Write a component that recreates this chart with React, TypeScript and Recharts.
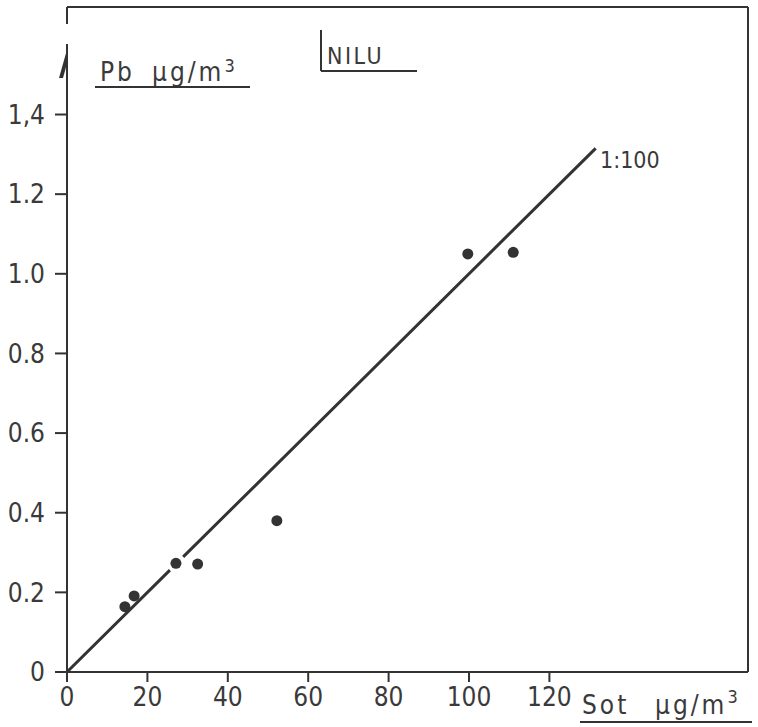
import { ComposedChart, Line, Scatter, XAxis, YAxis, ReferenceLine } from 'recharts'

// measured points, Sot (µg/m3) vs Pb (µg/m3)
const sotValues = [14.4, 16.7, 27.1, 32.5, 52.2, 99.7, 111.0]
const pbValues = [0.164, 0.191, 0.273, 0.271, 0.38, 1.05, 1.054]

// 1:100 reference line (drawn with a small break near 27)
const refX = [0, 25.6, 27.2, 28.9, 131.5]
const refY = [0, 0.256, null, 0.289, 1.315]

const xTicks = [0, 20, 40, 60, 80, 100, 120]
const yTicks = [0, 0.2, 0.4, 0.6, 0.8, 1.0, 1.2, 1.4]
const yTickLabels = ['0', '0.2', '0.4', '0.6', '0.8', '1.0', '1.2', '1,4']

const xMax = 169.4
const yMax = 1.67

const points = sotValues.map((x, i) => ({ x, y: pbValues[i] }))
const refLine = refX.map((x, i) => ({ x, y: refY[i] }))

const ink = '#333'
const font = "'DejaVu Sans Condensed', 'DejaVu Sans', sans-serif"
const tickStyle = { fontSize: 26, fill: '#3a3a3a', fontFamily: font }

export default function App() {
  return (
    <div style={{ position: 'absolute', left: 0, top: 0, width: 758, height: 727, background: '#fff' }}>
      <ComposedChart width={758} height={727} margin={{ top: 7, right: 10, left: 7, bottom: 15 }}>
        <XAxis
          type="number"
          dataKey="x"
          domain={[0, xMax]}
          ticks={xTicks}
          tick={tickStyle}
          tickSize={10}
          tickMargin={6}
          height={40}
          stroke={ink}
          strokeWidth={2}
        />
        <YAxis
          type="number"
          dataKey="y"
          domain={[0, yMax]}
          ticks={yTicks}
          tickFormatter={(v: number) => yTickLabels[yTicks.indexOf(v)] ?? ''}
          tick={tickStyle}
          tickSize={12}
          tickMargin={10}
          width={60}
          stroke={ink}
          strokeWidth={2}
        />
        <ReferenceLine x={xMax} stroke={ink} strokeWidth={2} />
        <ReferenceLine y={yMax} stroke={ink} strokeWidth={2} />
        <Line
          data={refLine}
          dataKey="y"
          stroke={ink}
          strokeWidth={3}
          dot={false}
          connectNulls={false}
          isAnimationActive={false}
        />
        <Scatter
          data={points}
          dataKey="y"
          fill={ink}
          isAnimationActive={false}
          shape={(p: any) => <circle cx={p.cx} cy={p.cy} r={5.5} fill={ink} />}
        />
      </ComposedChart>
      <svg width={758} height={727} style={{ position: 'absolute', left: 0, top: 0, pointerEvents: 'none' }}>
        <rect x={62} y={24} width={10} height={20} fill="#fff" />
        <g fill="#3a3a3a" fontFamily={font}>
          <text y={81} fontSize={26} letterSpacing={3}>
            <tspan x={100}>Pb</tspan>
            <tspan x={152}>µg/m</tspan>
            <tspan dy={-9} fontSize={18}>3</tspan>
          </text>
          <text x={327} y={64} fontSize={23} letterSpacing={2.5}>NILU</text>
          <text x={600} y={168} fontSize={23}>1:100</text>
          <text y={714} fontSize={26} letterSpacing={3}>
            <tspan x={582}>Sot</tspan>
            <tspan x={655}>µg/m</tspan>
            <tspan dy={-11} fontSize={18}>3</tspan>
          </text>
        </g>
        <g stroke={ink} strokeWidth={2}>
          <line x1={95} y1={87} x2={250} y2={87} />
          <line x1={321} y1={30} x2={321} y2={71} />
          <line x1={321} y1={71} x2={417} y2={71} />
          <line x1={580} y1={722} x2={752} y2={722} />
        </g>
        <path d="M68,46 L59,78 L63,78 L68,60 Z" fill={ink} />
      </svg>
    </div>
  )
}
